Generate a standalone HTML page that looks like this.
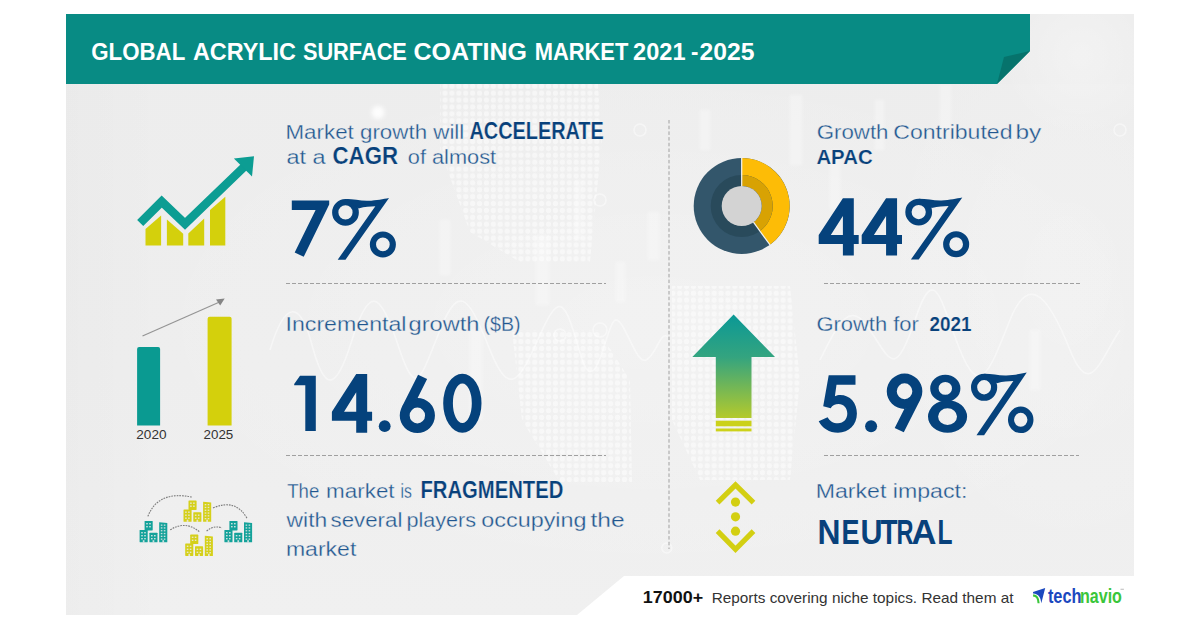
<!DOCTYPE html>
<html><head><meta charset="utf-8">
<style>
html,body{margin:0;padding:0;background:#fff;width:1200px;height:627px;overflow:hidden}
svg{display:block}
text{font-family:"Liberation Sans",sans-serif}
</style></head><body>
<svg width="1200" height="627" viewBox="0 0 1200 627">
<defs>
<filter id="bl" x="-5%" y="-5%" width="110%" height="110%"><feGaussianBlur stdDeviation="0.6"/></filter>
<filter id="bl2" x="-50%" y="-20%" width="200%" height="140%"><feGaussianBlur stdDeviation="1.4"/></filter>
<filter id="bl3" x="-50%" y="-50%" width="200%" height="200%"><feGaussianBlur stdDeviation="2"/></filter>
<pattern id="dots" width="6.9" height="6.9" patternUnits="userSpaceOnUse"><circle cx="3.45" cy="3.45" r="2.6" fill="#fff"/></pattern>
<linearGradient id="pg" x1="0" y1="0" x2="0" y2="1"><stop offset="0" stop-color="#ededed"/><stop offset="0.6" stop-color="#eeeeee"/><stop offset="1" stop-color="#f0f0f0"/></linearGradient>
<linearGradient id="lg" x1="0" y1="0" x2="1" y2="0"><stop offset="0" stop-color="#000" stop-opacity="0.012"/><stop offset="1" stop-color="#000" stop-opacity="0"/></linearGradient>
<radialGradient id="glow2" cx="0.8" cy="0.4" r="0.6"><stop offset="0" stop-color="#fff" stop-opacity="0.2"/><stop offset="1" stop-color="#fff" stop-opacity="0"/></radialGradient>
<radialGradient id="glow3" cx="0.6" cy="0.3" r="0.6"><stop offset="0" stop-color="#fff" stop-opacity="0.3"/><stop offset="1" stop-color="#fff" stop-opacity="0"/></radialGradient>
<radialGradient id="glow" cx="0.55" cy="0.45" r="0.5"><stop offset="0" stop-color="#fff" stop-opacity="0.25"/><stop offset="1" stop-color="#fff" stop-opacity="0"/></radialGradient>
<linearGradient id="ag" x1="0" y1="314" x2="0" y2="431" gradientUnits="userSpaceOnUse">
<stop offset="0" stop-color="#0a9896"/><stop offset="0.37" stop-color="#34a47f"/><stop offset="1" stop-color="#cfd21a"/>
</linearGradient>
</defs>
<!-- panel -->
<rect x="66" y="14" width="1068" height="601" fill="url(#pg)"/>
<!-- background texture -->
<g>
<rect x="66" y="84" width="100" height="531" fill="url(#lg)"/>
<rect x="66" y="84" width="1068" height="531" fill="url(#glow)"/>
<rect x="800" y="84" width="334" height="492" fill="url(#glow2)"/>
<rect x="1000" y="14" width="134" height="140" fill="url(#glow3)"/>
<g fill="url(#dots)" opacity="0.5" filter="url(#bl)">
<polygon points="440,84 598,84 602,140 596,200 590,262 520,262 470,232 440,150"/>
<polygon points="672,286 790,286 800,380 790,480 700,480 672,420"/>
<polygon points="512,330 598,330 630,380 632,482 560,482 522,420"/>
</g>
<g fill="#fff" opacity="0.3" filter="url(#bl2)">
<rect x="536" y="235" width="13" height="70"/><rect x="616" y="262" width="9" height="40"/>
<rect x="648" y="212" width="11" height="48"/><rect x="575" y="180" width="6" height="60"/>
<rect x="790" y="95" width="12" height="70"/><rect x="830" y="150" width="10" height="60"/>
<rect x="875" y="100" width="9" height="50"/><rect x="940" y="85" width="11" height="45"/>
<rect x="700" y="110" width="10" height="40"/><rect x="440" y="220" width="10" height="55"/>
<rect x="470" y="330" width="12" height="90"/><rect x="1030" y="330" width="10" height="60"/>
</g>
<g fill="none" stroke="#fff" stroke-width="1.5" opacity="0.45" filter="url(#bl)">
<path d="M270,350 C285,300 300,300 312,345 S335,395 352,340 S380,290 398,345 S420,380 440,330 S470,300 490,350 S520,380 540,335 S565,300 580,353 S605,330 614,321 S635,365 646,360 S660,330 668,337"/>
<path d="M820,360 C840,320 850,300 870,330 S895,380 915,320 S940,300 960,350 S990,370 1010,320 S1050,300 1070,350 S1100,360 1120,330"/>
<circle cx="600" cy="200" r="6"/><circle cx="600" cy="330" r="7"/><circle cx="640" cy="130" r="6"/>
<circle cx="560" cy="335" r="6"/><circle cx="666.8" cy="548" r="5"/><circle cx="1120" cy="130" r="6"/>
</g>
<circle cx="378" cy="112.5" r="6.5" fill="#fff" opacity="0.9" filter="url(#bl3)"/>
</g>
<!-- header -->
<polygon points="66,14 1030,14 1030,51 997,84 66,84" fill="#088b84"/>
<polygon points="1030,51 1004,57 997,84" fill="#06736c"/>
<!-- footer white -->
<polygon points="624,576 1200,576 1200,627 577,627 577,615" fill="#fff"/>
<rect x="0" y="615" width="1200" height="12" fill="#fff"/>
<!-- dashed lines -->
<g stroke="#a0a0a0" stroke-width="1" stroke-dasharray="4 2" fill="none">
<line x1="286" y1="283.5" x2="606" y2="283.5"/>
<line x1="286" y1="455.5" x2="606" y2="455.5"/>
<line x1="824" y1="283.5" x2="1080" y2="283.5"/>
<line x1="824" y1="455.5" x2="1079" y2="455.5"/>
<line x1="669" y1="120" x2="669" y2="549" stroke-dasharray="3.5 2.2"/>
</g>
<!-- icon 1: growth chart -->
<g fill="#d4d00c">
<polygon points="145.5,229 161.1,215.6 161.1,245.6 145.5,245.6"/>
<polygon points="166.9,219.4 183.2,233.8 183.2,245.6 166.9,245.6"/>
<polygon points="188.3,233.4 204.2,218.5 204.2,245.6 188.3,245.6"/>
<polygon points="210,209.9 225.3,196.8 225.3,245.6 210,245.6"/>
</g>
<polyline points="140.2,223 161.7,201.6 185,223.9 244,167" fill="none" stroke="#0c9d93" stroke-width="8.6" stroke-linejoin="miter"/>
<polygon points="233.9,158.6 254,156.3 252,176.4" fill="#0c9d93"/>
<!-- icon 2: bar chart -->
<path d="M137.1,425.4 V349 Q137.1,347 139.1,347 H158.1 Q160.1,347 160.1,349 V425.4 Z" fill="#0a9a91"/>
<path d="M207.6,425.4 V318.8 Q207.6,316.8 209.6,316.8 H229.6 Q231.6,316.8 231.6,318.8 V425.4 Z" fill="#d4d00c"/>
<line x1="142.5" y1="336" x2="219" y2="302.2" stroke="#949494" stroke-width="1.2"/>
<polygon points="224.7,298.4 216,299.4 220.2,305.6" fill="#858585"/>
<!-- icon 3: buildings -->
<g transform="translate(139.6,521)"><g fill="#14a29a"><rect x="5" y="0" width="8.1" height="9.4" rx="0.6"/>
<rect x="0" y="8.9" width="8.1" height="12.4" rx="0.6"/>
<rect x="9.8" y="11.7" width="8.1" height="9.6" rx="0.6"/>
<path d="M19.6,1.2 L27.7,2 V21.3 H19.6 Z"/></g><g fill="#ececec" opacity="0.85"><rect x="6.6" y="2" width="1.6" height="1.4"/><rect x="9.6" y="2" width="1.6" height="1.4"/>
<rect x="6.6" y="5" width="1.6" height="1.4"/><rect x="9.6" y="5" width="1.6" height="1.4"/>
<rect x="1.6" y="11" width="1.6" height="1.4"/><rect x="4.6" y="11" width="1.6" height="1.4"/>
<rect x="1.6" y="14" width="1.6" height="1.4"/><rect x="4.6" y="14" width="1.6" height="1.4"/>
<rect x="1.6" y="17" width="1.6" height="1.4"/><rect x="4.6" y="17" width="1.6" height="1.4"/>
<rect x="11.4" y="14" width="1.6" height="1.4"/><rect x="14.4" y="14" width="1.6" height="1.4"/>
<rect x="11.4" y="17" width="1.6" height="1.4"/><rect x="14.4" y="17" width="1.6" height="1.4"/>
<rect x="21.2" y="3.5" width="1.6" height="1.3"/><rect x="24.2" y="3.5" width="1.6" height="1.3"/>
<rect x="21.2" y="6.3" width="1.6" height="1.3"/><rect x="24.2" y="6.3" width="1.6" height="1.3"/>
<rect x="21.2" y="9.1" width="1.6" height="1.3"/><rect x="24.2" y="9.1" width="1.6" height="1.3"/>
<rect x="21.2" y="11.9" width="1.6" height="1.3"/><rect x="24.2" y="11.9" width="1.6" height="1.3"/>
<rect x="21.2" y="14.7" width="1.6" height="1.3"/><rect x="24.2" y="14.7" width="1.6" height="1.3"/>
<rect x="21.2" y="17.5" width="1.6" height="1.3"/><rect x="24.2" y="17.5" width="1.6" height="1.3"/>
<rect x="3.2" y="19.2" width="1.7" height="2.2"/><rect x="13" y="19.2" width="1.7" height="2.2"/><rect x="22.8" y="19.2" width="1.7" height="2.2"/></g></g>
<g transform="translate(224.4,521)"><g fill="#14a29a"><rect x="5" y="0" width="8.1" height="9.4" rx="0.6"/>
<rect x="0" y="8.9" width="8.1" height="12.4" rx="0.6"/>
<rect x="9.8" y="11.7" width="8.1" height="9.6" rx="0.6"/>
<path d="M19.6,1.2 L27.7,2 V21.3 H19.6 Z"/></g><g fill="#ececec" opacity="0.85"><rect x="6.6" y="2" width="1.6" height="1.4"/><rect x="9.6" y="2" width="1.6" height="1.4"/>
<rect x="6.6" y="5" width="1.6" height="1.4"/><rect x="9.6" y="5" width="1.6" height="1.4"/>
<rect x="1.6" y="11" width="1.6" height="1.4"/><rect x="4.6" y="11" width="1.6" height="1.4"/>
<rect x="1.6" y="14" width="1.6" height="1.4"/><rect x="4.6" y="14" width="1.6" height="1.4"/>
<rect x="1.6" y="17" width="1.6" height="1.4"/><rect x="4.6" y="17" width="1.6" height="1.4"/>
<rect x="11.4" y="14" width="1.6" height="1.4"/><rect x="14.4" y="14" width="1.6" height="1.4"/>
<rect x="11.4" y="17" width="1.6" height="1.4"/><rect x="14.4" y="17" width="1.6" height="1.4"/>
<rect x="21.2" y="3.5" width="1.6" height="1.3"/><rect x="24.2" y="3.5" width="1.6" height="1.3"/>
<rect x="21.2" y="6.3" width="1.6" height="1.3"/><rect x="24.2" y="6.3" width="1.6" height="1.3"/>
<rect x="21.2" y="9.1" width="1.6" height="1.3"/><rect x="24.2" y="9.1" width="1.6" height="1.3"/>
<rect x="21.2" y="11.9" width="1.6" height="1.3"/><rect x="24.2" y="11.9" width="1.6" height="1.3"/>
<rect x="21.2" y="14.7" width="1.6" height="1.3"/><rect x="24.2" y="14.7" width="1.6" height="1.3"/>
<rect x="21.2" y="17.5" width="1.6" height="1.3"/><rect x="24.2" y="17.5" width="1.6" height="1.3"/>
<rect x="3.2" y="19.2" width="1.7" height="2.2"/><rect x="13" y="19.2" width="1.7" height="2.2"/><rect x="22.8" y="19.2" width="1.7" height="2.2"/></g></g>
<g transform="translate(183.5,500.5)"><g fill="#d5d01a"><rect x="5" y="0" width="8.1" height="9.4" rx="0.6"/>
<rect x="0" y="8.9" width="8.1" height="12.4" rx="0.6"/>
<rect x="9.8" y="11.7" width="8.1" height="9.6" rx="0.6"/>
<path d="M19.6,1.2 L27.7,2 V21.3 H19.6 Z"/></g><g fill="#ececec" opacity="0.85"><rect x="6.6" y="2" width="1.6" height="1.4"/><rect x="9.6" y="2" width="1.6" height="1.4"/>
<rect x="6.6" y="5" width="1.6" height="1.4"/><rect x="9.6" y="5" width="1.6" height="1.4"/>
<rect x="1.6" y="11" width="1.6" height="1.4"/><rect x="4.6" y="11" width="1.6" height="1.4"/>
<rect x="1.6" y="14" width="1.6" height="1.4"/><rect x="4.6" y="14" width="1.6" height="1.4"/>
<rect x="1.6" y="17" width="1.6" height="1.4"/><rect x="4.6" y="17" width="1.6" height="1.4"/>
<rect x="11.4" y="14" width="1.6" height="1.4"/><rect x="14.4" y="14" width="1.6" height="1.4"/>
<rect x="11.4" y="17" width="1.6" height="1.4"/><rect x="14.4" y="17" width="1.6" height="1.4"/>
<rect x="21.2" y="3.5" width="1.6" height="1.3"/><rect x="24.2" y="3.5" width="1.6" height="1.3"/>
<rect x="21.2" y="6.3" width="1.6" height="1.3"/><rect x="24.2" y="6.3" width="1.6" height="1.3"/>
<rect x="21.2" y="9.1" width="1.6" height="1.3"/><rect x="24.2" y="9.1" width="1.6" height="1.3"/>
<rect x="21.2" y="11.9" width="1.6" height="1.3"/><rect x="24.2" y="11.9" width="1.6" height="1.3"/>
<rect x="21.2" y="14.7" width="1.6" height="1.3"/><rect x="24.2" y="14.7" width="1.6" height="1.3"/>
<rect x="21.2" y="17.5" width="1.6" height="1.3"/><rect x="24.2" y="17.5" width="1.6" height="1.3"/>
<rect x="3.2" y="19.2" width="1.7" height="2.2"/><rect x="13" y="19.2" width="1.7" height="2.2"/><rect x="22.8" y="19.2" width="1.7" height="2.2"/></g></g>
<g transform="translate(185.2,534.6)"><g fill="#d5d01a"><rect x="5" y="0" width="8.1" height="9.4" rx="0.6"/>
<rect x="0" y="8.9" width="8.1" height="12.4" rx="0.6"/>
<rect x="9.8" y="11.7" width="8.1" height="9.6" rx="0.6"/>
<path d="M19.6,1.2 L27.7,2 V21.3 H19.6 Z"/></g><g fill="#ececec" opacity="0.85"><rect x="6.6" y="2" width="1.6" height="1.4"/><rect x="9.6" y="2" width="1.6" height="1.4"/>
<rect x="6.6" y="5" width="1.6" height="1.4"/><rect x="9.6" y="5" width="1.6" height="1.4"/>
<rect x="1.6" y="11" width="1.6" height="1.4"/><rect x="4.6" y="11" width="1.6" height="1.4"/>
<rect x="1.6" y="14" width="1.6" height="1.4"/><rect x="4.6" y="14" width="1.6" height="1.4"/>
<rect x="1.6" y="17" width="1.6" height="1.4"/><rect x="4.6" y="17" width="1.6" height="1.4"/>
<rect x="11.4" y="14" width="1.6" height="1.4"/><rect x="14.4" y="14" width="1.6" height="1.4"/>
<rect x="11.4" y="17" width="1.6" height="1.4"/><rect x="14.4" y="17" width="1.6" height="1.4"/>
<rect x="21.2" y="3.5" width="1.6" height="1.3"/><rect x="24.2" y="3.5" width="1.6" height="1.3"/>
<rect x="21.2" y="6.3" width="1.6" height="1.3"/><rect x="24.2" y="6.3" width="1.6" height="1.3"/>
<rect x="21.2" y="9.1" width="1.6" height="1.3"/><rect x="24.2" y="9.1" width="1.6" height="1.3"/>
<rect x="21.2" y="11.9" width="1.6" height="1.3"/><rect x="24.2" y="11.9" width="1.6" height="1.3"/>
<rect x="21.2" y="14.7" width="1.6" height="1.3"/><rect x="24.2" y="14.7" width="1.6" height="1.3"/>
<rect x="21.2" y="17.5" width="1.6" height="1.3"/><rect x="24.2" y="17.5" width="1.6" height="1.3"/>
<rect x="3.2" y="19.2" width="1.7" height="2.2"/><rect x="13" y="19.2" width="1.7" height="2.2"/><rect x="22.8" y="19.2" width="1.7" height="2.2"/></g></g>
<g fill="none" stroke="#7d7d7d" stroke-width="1.15" stroke-dasharray="1.7 1">
<path d="M147.9,516.4 Q158,490 192.5,497.2"/>
<path d="M213,508 Q236,498 247.4,519"/>
<path d="M170.2,529.8 Q186,520 200,532.3"/>
<path d="M206.6,531 Q214,525 221.9,527.9"/>
</g>
<!-- donut -->
<circle cx="741.7" cy="206" r="48" fill="#33566b"/>
<circle cx="741.7" cy="206" r="31" fill="#294a5b"/>
<path d="M741.7,158 A48,48 0 0,1 769.91,244.83 L759.92,231.08 A31,31 0 0,0 741.7,175 Z" fill="#fdbc06"/>
<path d="M741.7,175 A31,31 0 0,1 759.92,231.08 L753.46,222.18 A20,20 0 0,0 741.7,186 Z" fill="#d8a203"/>
<circle cx="741.7" cy="206" r="20" fill="#d3d3d3"/>
<g stroke="#f4f4f4" stroke-width="1.2"><line x1="741.7" y1="157.5" x2="741.7" y2="186"/><line x1="753.46" y1="222.18" x2="770.2" y2="245.2"/></g>
<!-- gradient arrow -->
<polygon points="733.6,314.5 775,357 751.5,357 751.5,418 715.8,418 715.8,357 692.3,357" fill="url(#ag)"/>
<rect x="715.8" y="420.7" width="35.7" height="5.6" fill="#cbd11a"/>
<rect x="715.8" y="428.5" width="35.7" height="2.9" fill="#cdd21a"/>
<!-- chevrons -->
<g fill="none" stroke="#d3cf12" stroke-width="5.2">
<polyline points="717.6,502.6 735.5,484.9 753.5,502.6"/>
<polyline points="717.6,531.1 735.5,549.3 753.5,531.1"/>
</g>
<g fill="#d3cf12"><circle cx="735.5" cy="502.1" r="4.6"/><circle cx="735.5" cy="516.8" r="4.6"/><circle cx="735.5" cy="531.2" r="4.6"/></g>
<!-- technavio icon -->
<path d="M1033,592 L1045.2,588 L1041.3,603.3 C1040.6,597.5 1039,594.2 1033.1,593.6 Z" fill="#1b48bf"/>
<path d="M1033.1,595.4 C1036.6,595.9 1038.3,597.3 1038.6,603.3" fill="none" stroke="#3ac63a" stroke-width="2.1"/>
<rect x="1120.5" y="588.8" width="3.4" height="0.8" fill="#aaa"/>
<!-- big number extras -->
<g transform="translate(332.1,197.9) scale(0.9984,0.9984)"><circle cx="13.4" cy="14.5" r="10.25" fill="none" stroke="#05427c" stroke-width="6.3"/>
<circle cx="50.85" cy="46.6" r="9.95" fill="none" stroke="#05427c" stroke-width="6.2"/>
<path d="M13.4,1.1 C22,1.1 28,3 36,2.8 C45,2.5 51,1 57,0 L13.4,61.9 L5.6,61.9 L43.3,8.4 C38,8.6 33,8.8 26.5,10.5 Z" fill="#05427c"/></g>
<g transform="translate(905.3,197.6) scale(1.0000,1.0000)"><circle cx="13.4" cy="14.5" r="10.25" fill="none" stroke="#05427c" stroke-width="6.3"/>
<circle cx="50.85" cy="46.6" r="9.95" fill="none" stroke="#05427c" stroke-width="6.2"/>
<path d="M13.4,1.1 C22,1.1 28,3 36,2.8 C45,2.5 51,1 57,0 L13.4,61.9 L5.6,61.9 L43.3,8.4 C38,8.6 33,8.8 26.5,10.5 Z" fill="#05427c"/></g>
<g transform="translate(971,372.6) scale(0.9780,1.0129)"><circle cx="13.4" cy="14.5" r="10.25" fill="none" stroke="#05427c" stroke-width="6.3"/>
<circle cx="50.85" cy="46.6" r="9.95" fill="none" stroke="#05427c" stroke-width="6.2"/>
<path d="M13.4,1.1 C22,1.1 28,3 36,2.8 C45,2.5 51,1 57,0 L13.4,61.9 L5.6,61.9 L43.3,8.4 C38,8.6 33,8.8 26.5,10.5 Z" fill="#05427c"/></g>
<g fill="#05427c"><path d="M291.8,200.5 L329.2,200.5 L329.2,204.5 L303.7,256.8 L294.7,252.5 L315.6,210 L291.8,210 Z"/><path d="M300,375.8 L315.8,375.8 L315.8,431 L305.3,431 L305.3,385.3 L294.2,385.3 L294.2,384 Z"/><path fill-rule="evenodd" transform="translate(818.7,198.2) scale(1.0000,1.0000)" d="M24.2,0 L35.1,0 L35.1,36.9 L40,36.9 L40,45.8 L35.1,45.8 L35.1,57.4 L24.2,57.4 L24.2,45.8 L0,45.8 L0,36.9 Z M24.2,17.9 L12.1,36.9 L24.2,36.9 Z"/><path fill-rule="evenodd" transform="translate(861.7,198.2) scale(1.0075,1.0000)" d="M24.2,0 L35.1,0 L35.1,36.9 L40,36.9 L40,45.8 L35.1,45.8 L35.1,57.4 L24.2,57.4 L24.2,45.8 L0,45.8 L0,36.9 Z M24.2,17.9 L12.1,36.9 L24.2,36.9 Z"/><path fill-rule="evenodd" transform="translate(331.9,374.1) scale(1.0050,1.0209)" d="M24.2,0 L35.1,0 L35.1,36.9 L40,36.9 L40,45.8 L35.1,45.8 L35.1,57.4 L24.2,57.4 L24.2,45.8 L0,45.8 L0,36.9 Z M24.2,17.9 L12.1,36.9 L24.2,36.9 Z"/><g transform="translate(399.7,374.7) scale(1.0000,1.0000)"><path fill-rule="evenodd" d="M0.05,40.8 a17.6,17.6 0 1,0 35.20,0 a17.6,17.6 0 1,0 -35.20,0 Z M9.95,40.8 a7.7,7.9 0 1,0 15.40,0 a7.7,7.9 0 1,0 -15.40,0 Z "/><polygon points="18.4,0 27.4,4.2 17.9,23.2 8.3,27.3 1.9,32.9"/></g><g transform="translate(922.4000000000001,432.20000000000005) scale(-1.0113,-1.0034)"><path fill-rule="evenodd" d="M0.05,40.8 a17.6,17.6 0 1,0 35.20,0 a17.6,17.6 0 1,0 -35.20,0 Z M9.95,40.8 a7.7,7.9 0 1,0 15.40,0 a7.7,7.9 0 1,0 -15.40,0 Z "/><polygon points="18.4,0 27.4,4.2 17.9,23.2 8.3,27.3 1.9,32.9"/></g><path fill-rule="evenodd" d="M443.20,403.2 a19.15,29.5 0 1,0 38.30,0 a19.15,29.5 0 1,0 -38.30,0 Z M452.90,403.2 a9.45,19.75 0 1,0 18.90,0 a9.45,19.75 0 1,0 -18.90,0 Z "/><path fill-rule="evenodd" d="M930.20,388.4 a15.1,13.7 0 1,0 30.20,0 a15.1,13.7 0 1,0 -30.20,0 Z M938.60,388.4 a6.7,6.4 0 1,0 13.40,0 a6.7,6.4 0 1,0 -13.40,0 Z "/><path fill-rule="evenodd" d="M928.00,416.6 a19.55,16.2 0 1,0 39.10,0 a19.55,16.2 0 1,0 -39.10,0 Z M938.10,416.6 a9.45,8.4 0 1,0 18.90,0 a9.45,8.4 0 1,0 -18.90,0 Z "/><path d="M828.7,375.3 L855.5,375.3 L855.5,384.7 L836.5,384.7 L834.9,396.2 C836.6,395.3 838.4,394.9 840,394.9 C850.3,394.9 856.9,402.8 856.9,413.6 C856.9,424.6 849,432.8 838,432.8 C829.2,432.8 822.3,428.2 818.7,421.3 L827.6,417.2 C829.6,420.9 833.1,423.3 838,423.3 C843.6,423.3 847.3,419 847.3,413.6 C847.3,408 843.6,404.1 838.6,404.1 C835.2,404.1 832.3,405.6 830.7,408.2 L823.2,406.3 Z"/></g>
<circle cx="384.7" cy="426.2" r="5.9" fill="#05427c"/>
<circle cx="871.1" cy="426.3" r="6" fill="#05427c"/>
<!-- texts -->
<text id="t1a" x="91.30" y="59.7" font-size="24.6" font-weight="bold" fill="#fff" textLength="94.00" lengthAdjust="spacingAndGlyphs">GLOBAL</text>
<text id="t1b" x="192.90" y="59.7" font-size="24.6" font-weight="bold" fill="#fff" textLength="103.00" lengthAdjust="spacingAndGlyphs">ACRYLIC</text>
<text id="t1c" x="302.90" y="59.7" font-size="24.6" font-weight="bold" fill="#fff" textLength="104.00" lengthAdjust="spacingAndGlyphs">SURFACE</text>
<text id="t1d" x="413.50" y="59.7" font-size="24.6" font-weight="bold" fill="#fff" textLength="113.40" lengthAdjust="spacingAndGlyphs">COATING</text>
<text id="t1e" x="534.70" y="59.7" font-size="24.6" font-weight="bold" fill="#fff" textLength="93.60" lengthAdjust="spacingAndGlyphs">MARKET</text>
<text id="t1f" x="633.10" y="59.7" font-size="24.6" font-weight="bold" fill="#fff" textLength="52.40" lengthAdjust="spacingAndGlyphs">2021</text>
<text id="t1g" x="691.10" y="59.7" font-size="24.6" font-weight="bold" fill="#fff" textLength="7.40" lengthAdjust="spacingAndGlyphs">-</text>
<text id="t1h" x="699.50" y="59.7" font-size="24.6" font-weight="bold" fill="#fff" textLength="55.00" lengthAdjust="spacingAndGlyphs">2025</text>
<text id="t2" x="285.50" y="138.8" font-size="19.9" fill="#20568f" stroke="#ededed" stroke-width="0.3" textLength="178.80" lengthAdjust="spacingAndGlyphs">Market growth will</text>
<text id="t3" x="469.50" y="138.8" font-size="23.2" font-weight="bold" fill="#08417b" stroke="#ededed" stroke-width="0.2" textLength="134.20" lengthAdjust="spacingAndGlyphs">ACCELERATE</text>
<text id="t4" x="286.50" y="164" font-size="19.9" fill="#20568f" stroke="#ededed" stroke-width="0.3" textLength="39.10" lengthAdjust="spacingAndGlyphs">at a</text>
<text id="t5" x="332.50" y="164" font-size="23.2" font-weight="bold" fill="#08417b" stroke="#ededed" stroke-width="0.2" textLength="65.50" lengthAdjust="spacingAndGlyphs">CAGR</text>
<text id="t6" x="407.80" y="164" font-size="19.9" fill="#20568f" stroke="#ededed" stroke-width="0.3" textLength="88.30" lengthAdjust="spacingAndGlyphs">of almost</text>
<text id="t8a" x="285.50" y="331.2" font-size="19.9" fill="#20568f" stroke="#ededed" stroke-width="0.3" textLength="121.00" lengthAdjust="spacingAndGlyphs">Incremental</text>
<text id="t8b" x="408.50" y="331.2" font-size="19.9" fill="#20568f" stroke="#ededed" stroke-width="0.3" textLength="71.00" lengthAdjust="spacingAndGlyphs">growth</text>
<text id="t8c" x="483.50" y="331.2" font-size="19.9" fill="#20568f" stroke="#ededed" stroke-width="0.3" textLength="37.00" lengthAdjust="spacingAndGlyphs">($B)</text>
<text id="t10a" x="287.20" y="497.7" font-size="19.9" fill="#20568f" stroke="#ededed" stroke-width="0.3" textLength="32.10" lengthAdjust="spacingAndGlyphs">The</text>
<text id="t10b" x="326.10" y="497.7" font-size="19.9" fill="#20568f" stroke="#ededed" stroke-width="0.3" textLength="68.50" lengthAdjust="spacingAndGlyphs">market</text>
<text id="t10c" x="400.60" y="497.7" font-size="19.9" fill="#20568f" stroke="#ededed" stroke-width="0.3" textLength="11.30" lengthAdjust="spacingAndGlyphs">is</text>
<text id="t11" x="420.50" y="497.7" font-size="23.2" font-weight="bold" fill="#08417b" stroke="#ededed" stroke-width="0.2" textLength="142.80" lengthAdjust="spacingAndGlyphs">FRAGMENTED</text>
<text id="t12a" x="286.60" y="527.4" font-size="19.9" fill="#20568f" stroke="#ededed" stroke-width="0.3" textLength="40.65" lengthAdjust="spacingAndGlyphs">with</text>
<text id="t12b" x="330.50" y="527.4" font-size="19.9" fill="#20568f" stroke="#ededed" stroke-width="0.3" textLength="71.90" lengthAdjust="spacingAndGlyphs">several</text>
<text id="t12c" x="406.40" y="527.4" font-size="19.9" fill="#20568f" stroke="#ededed" stroke-width="0.3" textLength="69.70" lengthAdjust="spacingAndGlyphs">players</text>
<text id="t12d" x="481.30" y="527.4" font-size="19.9" fill="#20568f" stroke="#ededed" stroke-width="0.3" textLength="105.20" lengthAdjust="spacingAndGlyphs">occupying</text>
<text id="t12e" x="590.40" y="527.4" font-size="19.9" fill="#20568f" stroke="#ededed" stroke-width="0.3" textLength="34.20" lengthAdjust="spacingAndGlyphs">the</text>
<text id="t13" x="285.90" y="556.3" font-size="19.9" fill="#20568f" stroke="#ededed" stroke-width="0.3" textLength="70.40" lengthAdjust="spacingAndGlyphs">market</text>
<text id="t14a" x="816.70" y="138.6" font-size="19.9" fill="#20568f" stroke="#ededed" stroke-width="0.3" textLength="71.80" lengthAdjust="spacingAndGlyphs">Growth</text>
<text id="t14b" x="893.30" y="138.6" font-size="19.9" fill="#20568f" stroke="#ededed" stroke-width="0.3" textLength="119.20" lengthAdjust="spacingAndGlyphs">Contributed</text>
<text id="t14c" x="1015.50" y="138.6" font-size="19.9" fill="#20568f" stroke="#ededed" stroke-width="0.3" textLength="25.80" lengthAdjust="spacingAndGlyphs">by</text>
<text id="t15" x="816.40" y="163.9" font-size="20.3" font-weight="bold" fill="#08417b" stroke="#ededed" stroke-width="0.2" textLength="56.20" lengthAdjust="spacingAndGlyphs">APAC</text>
<text id="t17" x="816.40" y="331" font-size="19.9" fill="#20568f" stroke="#ededed" stroke-width="0.3" textLength="102.50" lengthAdjust="spacingAndGlyphs">Growth for</text>
<text id="t18" x="929.60" y="331" font-size="20.3" font-weight="bold" fill="#08417b" stroke="#ededed" stroke-width="0.2" textLength="42.00" lengthAdjust="spacingAndGlyphs">2021</text>
<text id="t20" x="815.70" y="497.7" font-size="19.9" fill="#20568f" stroke="#ededed" stroke-width="0.3" textLength="151.70" lengthAdjust="spacingAndGlyphs">Market impact:</text>
<text id="n1" x="817.50" y="543.9" font-size="34.5" font-weight="bold" fill="#08417b" textLength="23.00" lengthAdjust="spacingAndGlyphs">N</text>
<text id="n2" x="841.50" y="543.9" font-size="34.5" font-weight="bold" fill="#08417b" textLength="18.00" lengthAdjust="spacingAndGlyphs">E</text>
<text id="n3" x="860.50" y="543.9" font-size="34.5" font-weight="bold" fill="#08417b" textLength="22.00" lengthAdjust="spacingAndGlyphs">U</text>
<text id="n4" x="880.50" y="543.9" font-size="34.5" font-weight="bold" fill="#08417b" textLength="17.00" lengthAdjust="spacingAndGlyphs">T</text>
<text id="n5" x="896.50" y="543.9" font-size="34.5" font-weight="bold" fill="#08417b" textLength="17.00" lengthAdjust="spacingAndGlyphs">R</text>
<text id="n6" x="911.50" y="543.9" font-size="34.5" font-weight="bold" fill="#08417b" textLength="25.00" lengthAdjust="spacingAndGlyphs">A</text>
<text id="n7" x="937.50" y="543.9" font-size="34.5" font-weight="bold" fill="#08417b" textLength="15.00" lengthAdjust="spacingAndGlyphs">L</text>
<text id="t22" x="642.80" y="603" font-size="17" font-weight="bold" fill="#111" textLength="60.30" lengthAdjust="spacingAndGlyphs">17000+</text>
<text id="t23" x="711.70" y="603" font-size="14.5" fill="#333" textLength="301.80" lengthAdjust="spacingAndGlyphs">Reports covering niche topics. Read them at</text>
<text id="t24" x="136.30" y="439.4" font-size="13.4" fill="#333" textLength="30.20" lengthAdjust="spacingAndGlyphs">2020</text>
<text id="t25" x="203.60" y="439.4" font-size="13.4" fill="#333" textLength="29.70" lengthAdjust="spacingAndGlyphs">2025</text>
<text id="t26" x="1047.90" y="603.2" font-size="19.5" font-weight="bold" fill="#1b48bf" textLength="33.60" lengthAdjust="spacingAndGlyphs">tech</text>
<text id="t27" x="1080.00" y="603.2" font-size="19.5" font-weight="bold" fill="#3ac63a" textLength="41.90" lengthAdjust="spacingAndGlyphs">navio</text>
</svg>
</body></html>
